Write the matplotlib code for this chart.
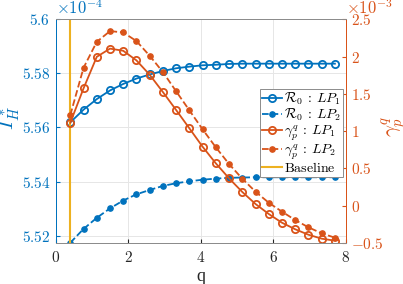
import matplotlib
matplotlib.use('Agg')
import matplotlib.pyplot as plt
from matplotlib.ticker import FuncFormatter, MultipleLocator
import numpy as np

plt.rcParams['mathtext.fontset'] = 'cm'
plt.rcParams['font.family'] = ['Liberation Serif', 'DejaVu Serif']

blue = '#0072BD'
orange = '#D95319'
yellow = '#EDB120'

# q values
q = np.linspace(0.4, 7.7, 21)

# I_H^* (x1e-4), left axis
r0_lp1 = [5.5619, 5.5666, 5.5705, 5.5737, 5.5761, 5.5781, 5.5796, 5.5809,
          5.5819, 5.5825, 5.5830, 5.5832, 5.5835, 5.5836, 5.5836, 5.5836,
          5.5836, 5.5836, 5.5836, 5.5836, 5.5836]
r0_lp2 = [5.5174, 5.5225, 5.5266, 5.5301, 5.5330, 5.5353, 5.5369, 5.5384,
          5.5394, 5.5401, 5.5407, 5.5411, 5.5414, 5.5415, 5.5416, 5.5416,
          5.5416, 5.5416, 5.5416, 5.5416, 5.5416]

# gamma_p^q (x1e-3), right axis
g_lp1 = [1.113, 1.574, 1.997, 2.107, 2.078, 1.949, 1.756, 1.524, 1.283, 1.038,
         0.791, 0.568, 0.367, 0.184, 0.023, -0.111, -0.228, -0.316, -0.389,
         -0.442, -0.469]
g_lp2 = [1.216, 1.850, 2.198, 2.342, 2.324, 2.208, 2.011, 1.792, 1.534, 1.279,
         1.024, 0.783, 0.559, 0.362, 0.188, 0.040, -0.080, -0.192, -0.290,
         -0.370, -0.429]

baseline_q = 0.4

fig = plt.figure(figsize=(4.03, 2.84), dpi=100)
ax = fig.add_axes([0.1385, 0.1444, 0.7195, 0.7876])
ax2 = ax.twinx()

fmt = FuncFormatter(lambda v, p: '$%g$' % round(v, 4))

l1, = ax.plot(q, r0_lp1, '-o', color=blue, lw=1.3, ms=5.2, mfc='none', mew=1.3,
              label=r'$\mathcal{R}_0\::\:LP_1$')
l2, = ax.plot(q, r0_lp2, '--o', color=blue, lw=1.3, ms=3.8, mfc=blue,
              label=r'$\mathcal{R}_0\::\:LP_2$')
lb = ax.axvline(baseline_q, color=yellow, lw=1.5, label=r'$\mathrm{Baseline}$')

l3, = ax2.plot(q, g_lp1, '-o', color=orange, lw=1.3, ms=5.2, mfc='none', mew=1.3,
               label=r'$\gamma_p^q\::\:LP_1$')
l4, = ax2.plot(q, g_lp2, '--o', color=orange, lw=1.3, ms=3.8, mfc=orange,
               label=r'$\gamma_p^q\::\:LP_2$')

ax.set_xlim(0, 8)
ax.set_ylim(5.5173, 5.6)
ax2.set_ylim(-0.5, 2.5)
ax.xaxis.set_major_locator(MultipleLocator(2))
ax.yaxis.set_major_locator(MultipleLocator(0.02))
ax2.yaxis.set_major_locator(MultipleLocator(0.5))
ax.xaxis.set_major_formatter(fmt)
ax.yaxis.set_major_formatter(fmt)
ax2.yaxis.set_major_formatter(fmt)

ax.grid(True, color='#e6e6e6', lw=0.7)
ax.set_axisbelow(True)

ax.tick_params(axis='x', direction='in', length=3, labelsize=11, colors='#262626', pad=5)
ax.tick_params(axis='y', direction='in', length=3, labelsize=11, colors=blue, pad=4)
ax2.tick_params(axis='y', direction='in', length=3, labelsize=11, colors=orange, pad=4)

for a in (ax, ax2):
    a.spines['top'].set_color('#8c8c8c')
    a.spines['bottom'].set_color('#8c8c8c')
    a.spines['left'].set_color(blue)
    a.spines['right'].set_color(orange)
    for s in a.spines.values():
        s.set_linewidth(0.7)

ax.set_xlabel('q', fontsize=13, color='#262626', labelpad=2)
ax.set_ylabel(r'$I_H^*$', fontsize=15, color=blue)
ax.yaxis.set_label_coords(-0.115, 0.56)
ax2.set_ylabel(r'$\gamma_p^q$', fontsize=15, color=orange)
ax2.yaxis.set_label_coords(1.12, 0.52)

ax.text(0.0, 1.024, r'$\times10^{-4}$', transform=ax.transAxes, ha='left',
        va='baseline', color=blue, fontsize=12)
ax2.text(1.0, 1.024, r'$\times10^{-3}$', transform=ax.transAxes, ha='left',
         va='baseline', color=orange, fontsize=12)

leg = ax2.legend(handles=[l1, l2, l3, l4, lb], loc='upper right',
                 bbox_to_anchor=(0.852, 0.688), bbox_transform=fig.transFigure,
                 fontsize=10, fancybox=False, framealpha=1, edgecolor='#8c8c8c',
                 handlelength=1.4, handletextpad=0.2, borderpad=0.15,
                 labelspacing=0.0, borderaxespad=0)
leg.get_frame().set_linewidth(0.7)

fig.savefig('out.png', dpi=100)
